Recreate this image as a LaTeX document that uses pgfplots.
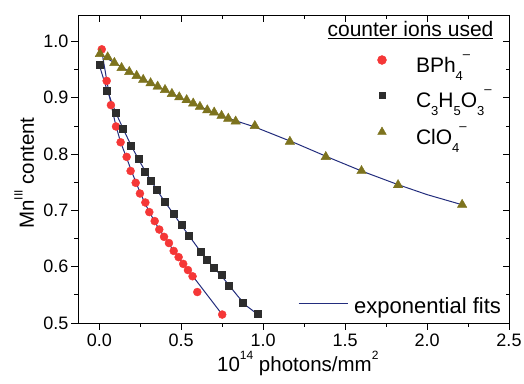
\documentclass[border=0pt]{standalone}
\usepackage{fontspec}
\setmainfont{Liberation Sans}
\usepackage{pgfplots}
\pgfplotsset{compat=1.18}
\definecolor{cred}{RGB}{245,55,55}
\definecolor{cblk}{RGB}{45,45,45}
\definecolor{colive}{RGB}{125,115,30}
\definecolor{cfit}{RGB}{35,45,125}

\newcommand{\lsub}[1]{\raisebox{-0.42em}{\fontsize{13}{13}\selectfont #1}}
\newcommand{\lsup}{\raisebox{0.62em}{\fontsize{13}{13}\selectfont --}}

\pgfplotsset{common/.style={
  scale only axis, width=431pt, height=308pt,
  xmin=-0.13, xmax=2.5, ymin=0.5, ymax=1.047,
  xtick={0,0.5,1,1.5,2,2.5}, ytick={0.5,0.6,0.7,0.8,0.9,1.0},
  minor x tick num=1, minor y tick num=1,
  major tick length=6.5pt, minor tick length=3.5pt,
  every tick/.style={black, line width=0.8pt},
  axis line style={line width=0.9pt},
  /pgf/number format/assume math mode=true,
  ticklabel style={font=\fontsize{18}{21}\selectfont},
  xticklabel={\pgfmathprintnumber[fixed,fixed zerofill,precision=1]{\tick}},
  yticklabel={\pgfmathprintnumber[fixed,fixed zerofill,precision=1]{\tick}},
}}

\begin{document}
\begin{tikzpicture}
\begin{axis}[common,
  xtick pos=bottom, ytick pos=left, tick align=outside,
  xticklabel style={inner sep=2pt, yshift=-2pt},
  yticklabel style={inner sep=3pt},
  xlabel={10\raisebox{0.55em}{\fontsize{12}{12}\selectfont 14} photons/mm\raisebox{0.55em}{\fontsize{12}{12}\selectfont 2}},
  ylabel={Mn\raisebox{0.55em}{\fontsize{12}{12}\selectfont III} content},
  label style={font=\fontsize{20.5}{24}\selectfont},
  xlabel style={at={(axis description cs:0.51,-0.156)}, anchor=base},
  ylabel style={at={(axis description cs:-0.125,0.487)}, anchor=center},
  legend style={at={(axis description cs:0.6949,0.8685)}, anchor=north west,
    draw=none, fill=none, font=\fontsize{21}{25}\selectfont,
    inner sep=0pt, outer sep=0pt, row sep=14pt,
    nodes={inner sep=0pt, text height=15pt, text depth=6pt},
    /tikz/every odd column/.append style={column sep=29.5pt}},
  legend cell align=left,
  legend image code/.code={\draw[#1] plot coordinates {(0pt,7.5pt)};},
]
\addplot[only marks, mark=*, mark size=4pt, color=cred, mark options={draw=cred, fill=cred}, forget plot] coordinates {
(0.015,0.986)(0.045,0.930)(0.071,0.887)(0.102,0.849)(0.130,0.821)(0.167,0.795)
(0.191,0.770)(0.222,0.749)(0.248,0.730)(0.281,0.714)(0.305,0.697)(0.338,0.681)
(0.366,0.666)(0.395,0.653)(0.425,0.642)(0.454,0.628)(0.484,0.617)(0.512,0.605)
(0.541,0.594)(0.569,0.583)(0.598,0.555)(0.750,0.515)};
\addplot[only marks, mark=square*, mark size=3.5pt, color=cblk, mark options={draw=cblk, fill=cblk}, forget plot] coordinates {
(0.000,0.958)(0.047,0.913)(0.102,0.873)(0.143,0.845)(0.193,0.815)(0.238,0.791)
(0.279,0.769)(0.315,0.752)(0.352,0.736)(0.399,0.715)(0.451,0.695)(0.500,0.674)
(0.545,0.655)(0.616,0.626)(0.655,0.613)(0.699,0.599)(0.744,0.586)(0.791,0.567)
(0.878,0.536)(0.968,0.516)};
\addplot[only marks, mark=triangle*, mark size=5.5pt, color=colive, mark options={draw=colive, fill=colive}, forget plot] coordinates {
(0.004,0.978)(0.051,0.972)(0.092,0.962)(0.136,0.953)(0.183,0.946)(0.228,0.939)
(0.268,0.932)(0.313,0.926)(0.356,0.920)(0.401,0.914)(0.443,0.907)(0.488,0.901)
(0.533,0.896)(0.573,0.890)(0.614,0.884)(0.659,0.878)(0.701,0.874)(0.746,0.868)
(0.787,0.863)(0.832,0.858)(0.949,0.850)(1.163,0.822)(1.382,0.795)(1.600,0.770)
(1.823,0.745)(2.214,0.710)};
% exponential fits
\addplot[cfit, line width=1pt, forget plot] coordinates {
(0.015,0.983)(0.045,0.932)(0.071,0.889)(0.100,0.852)(0.130,0.821)(0.167,0.793)
(0.200,0.767)(0.250,0.731)(0.300,0.700)(0.350,0.674)(0.400,0.651)(0.450,0.630)
(0.500,0.610)(0.550,0.591)(0.600,0.572)(0.650,0.553)(0.700,0.534)(0.750,0.515)};
\addplot[cfit, line width=1pt, forget plot] coordinates {
(0.000,0.958)(0.050,0.911)(0.100,0.874)(0.150,0.842)(0.200,0.812)(0.250,0.785)
(0.300,0.760)(0.350,0.737)(0.400,0.715)(0.450,0.695)(0.500,0.674)(0.550,0.654)
(0.600,0.634)(0.650,0.615)(0.700,0.598)(0.750,0.582)(0.800,0.564)(0.850,0.546)
(0.900,0.530)(0.968,0.515)};
\addplot[cfit, line width=1pt, forget plot] coordinates {
(0.000,0.978)(0.250,0.935)(0.500,0.899)(0.750,0.867)(0.950,0.848)(1.200,0.819)
(1.400,0.794)(1.600,0.770)(1.820,0.746)(2.000,0.728)(2.214,0.710)};
\addlegendimage{only marks, mark=*, mark size=4.5pt, cred, mark options={fill=cred}}
\addlegendentry{BPh\lsub{4}\lsup}
\addlegendimage{only marks, mark=square*, mark size=3pt, cblk, mark options={fill=cblk}}
\addlegendentry{C\lsub{3}H\lsub{5}O\lsub{3}\lsup}
\addlegendimage{only marks, mark=triangle*, mark size=5pt, colive, mark options={fill=colive}}
\addlegendentry{ClO\lsub{4}\lsup}
\node[anchor=base east, font=\fontsize{21}{25}\selectfont] at (axis description cs:0.972,0.9286) {\underline{counter ions used}};
\coordinate (bl) at (axis description cs:-0.18097,-0.19481);
\coordinate (tr) at (axis description cs:1.0348,1.0487);
\end{axis}
\begin{axis}[common,
  xtick pos=top, ytick pos=right, tick align=inside,
  xticklabels={}, yticklabels={},
  legend style={at={(axis description cs:0.9814,0.016)}, anchor=south east,
    draw=none, fill=none, font=\fontsize{22}{26}\selectfont,
    inner sep=0pt, outer sep=0pt,
    nodes={inner sep=0pt, text height=15pt, text depth=5pt},
    /tikz/every odd column/.append style={column sep=6pt}},
  legend image code/.code={\draw[#1] (0pt,4.5pt) -- (49pt,4.5pt);},
]
\addlegendimage{cfit, line width=1pt}
\addlegendentry{exponential fits}
\end{axis}
\pgfresetboundingbox
\path (bl) rectangle (tr);
\end{tikzpicture}
\end{document}
